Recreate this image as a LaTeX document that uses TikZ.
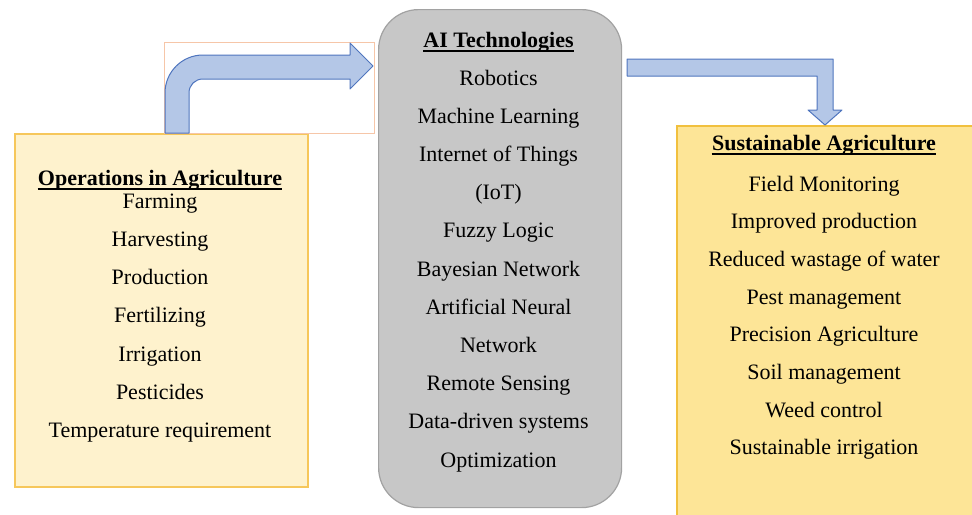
\documentclass[tikz,border=0pt]{standalone}
\usepackage{fontspec}
\setmainfont{Liberation Serif}
\usepackage{tikz}

\definecolor{opsfill}{HTML}{FEF2CD}
\definecolor{opsedge}{HTML}{F6C75B}
\definecolor{susfill}{HTML}{FDE597}
\definecolor{susedge}{HTML}{F1C03E}
\definecolor{aifill}{HTML}{C7C7C7}
\definecolor{aiedge}{HTML}{A2A2A2}
\definecolor{arrowfill}{HTML}{B4C7E7}
\definecolor{arrowedge}{HTML}{4F75BE}
\definecolor{frameedge}{HTML}{F6C6A8}

\tikzset{
  opsbox/.style={draw=opsedge, fill=opsfill, line width=0.8pt, anchor=north west},
  aibox/.style={draw=aiedge, fill=aifill, line width=0.6pt, rounded corners=20pt, anchor=north west},
  susbox/.style={draw=susedge, fill=susfill, line width=0.8pt, anchor=north west},
  item/.style={anchor=base, inner sep=0pt, font=\fontsize{11}{13}\selectfont},
  head/.style={item, font=\fontsize{11}{13}\selectfont\bfseries},
  uline/.style={line width=0.6pt},
  blockarrow/.style={draw=arrowedge, fill=arrowfill, line width=0.5pt, line join=round}
}

\begin{document}
\begin{tikzpicture}[x=0.5pt,y=-0.5pt]
\useasboundingbox (0,0) rectangle (972,514);

% boxes
\node[opsbox, minimum width=146.5pt, minimum height=176.5pt] (ops) at (14,133) {};
\node[aibox, minimum width=121.5pt, minimum height=249pt] (ai) at (378,9) {};
\node[susbox, minimum width=157pt, minimum height=202.5pt] (sus) at (676,125) {};

% frame round the bent arrow
\draw[frameedge, line width=0.4pt] (164,42) rectangle (374,133);

% bent arrow, operations -> AI
\draw[blockarrow] (165,0 |- ops.north) -- (165,93)
  .. controls (165,72) and (182,55) .. (203,55) -- (350,55) -- (350,43)
  -- (373,66) -- (350,89) -- (350,79) -- (203,79)
  .. controls (195,79) and (189,85) .. (189,93) -- (189,0 |- ops.north) -- cycle;

% elbow arrow, AI -> sustainable
\draw[blockarrow] (627,59) -- (833,59) -- (833,110) -- (842,110)
  -- (825,0 |- sus.north) -- (808,110) -- (817,110) -- (817,76) -- (627,76) -- cycle;

% operations in agriculture
\node[head] (opshead) at (160,185) {Operations in Agriculture};
\draw[uline] ([yshift=-2pt]opshead.base west) -- ([yshift=-2pt]opshead.base east);
\foreach \txt [count=\i from 0] in {Farming,Harvesting,Production,Fertilizing,Irrigation,Pesticides,Temperature requirement}
  \node[item] (ops\i) at (160,{208+38.33*\i}) {\txt};

% AI technologies
\node[head] (aihead) at (498.5,47) {AI Technologies};
\draw[uline] ([yshift=-2pt]aihead.base west) -- ([yshift=-2pt]aihead.base east);
\foreach \txt [count=\i from 0] in {Robotics,Machine Learning,Internet of Things,(IoT),Fuzzy Logic,Bayesian Network,Artificial Neural,Network,Remote Sensing,Data-driven systems,Optimization}
  \node[item] (ai\i) at (498.5,{85+38.2*\i}) {\txt};

% sustainable agriculture
\node[head] (sushead) at (824,150) {Sustainable Agriculture};
\draw[uline] ([yshift=-2pt]sushead.base west) -- ([yshift=-2pt]sushead.base east);
\foreach \txt [count=\i from 0] in {Field Monitoring,Improved production,Reduced wastage of water,Pest management,Precision Agriculture,Soil management,Weed control,Sustainable irrigation}
  \node[item] (sus\i) at (824,{191+37.7*\i}) {\txt};
\end{tikzpicture}
\end{document}
